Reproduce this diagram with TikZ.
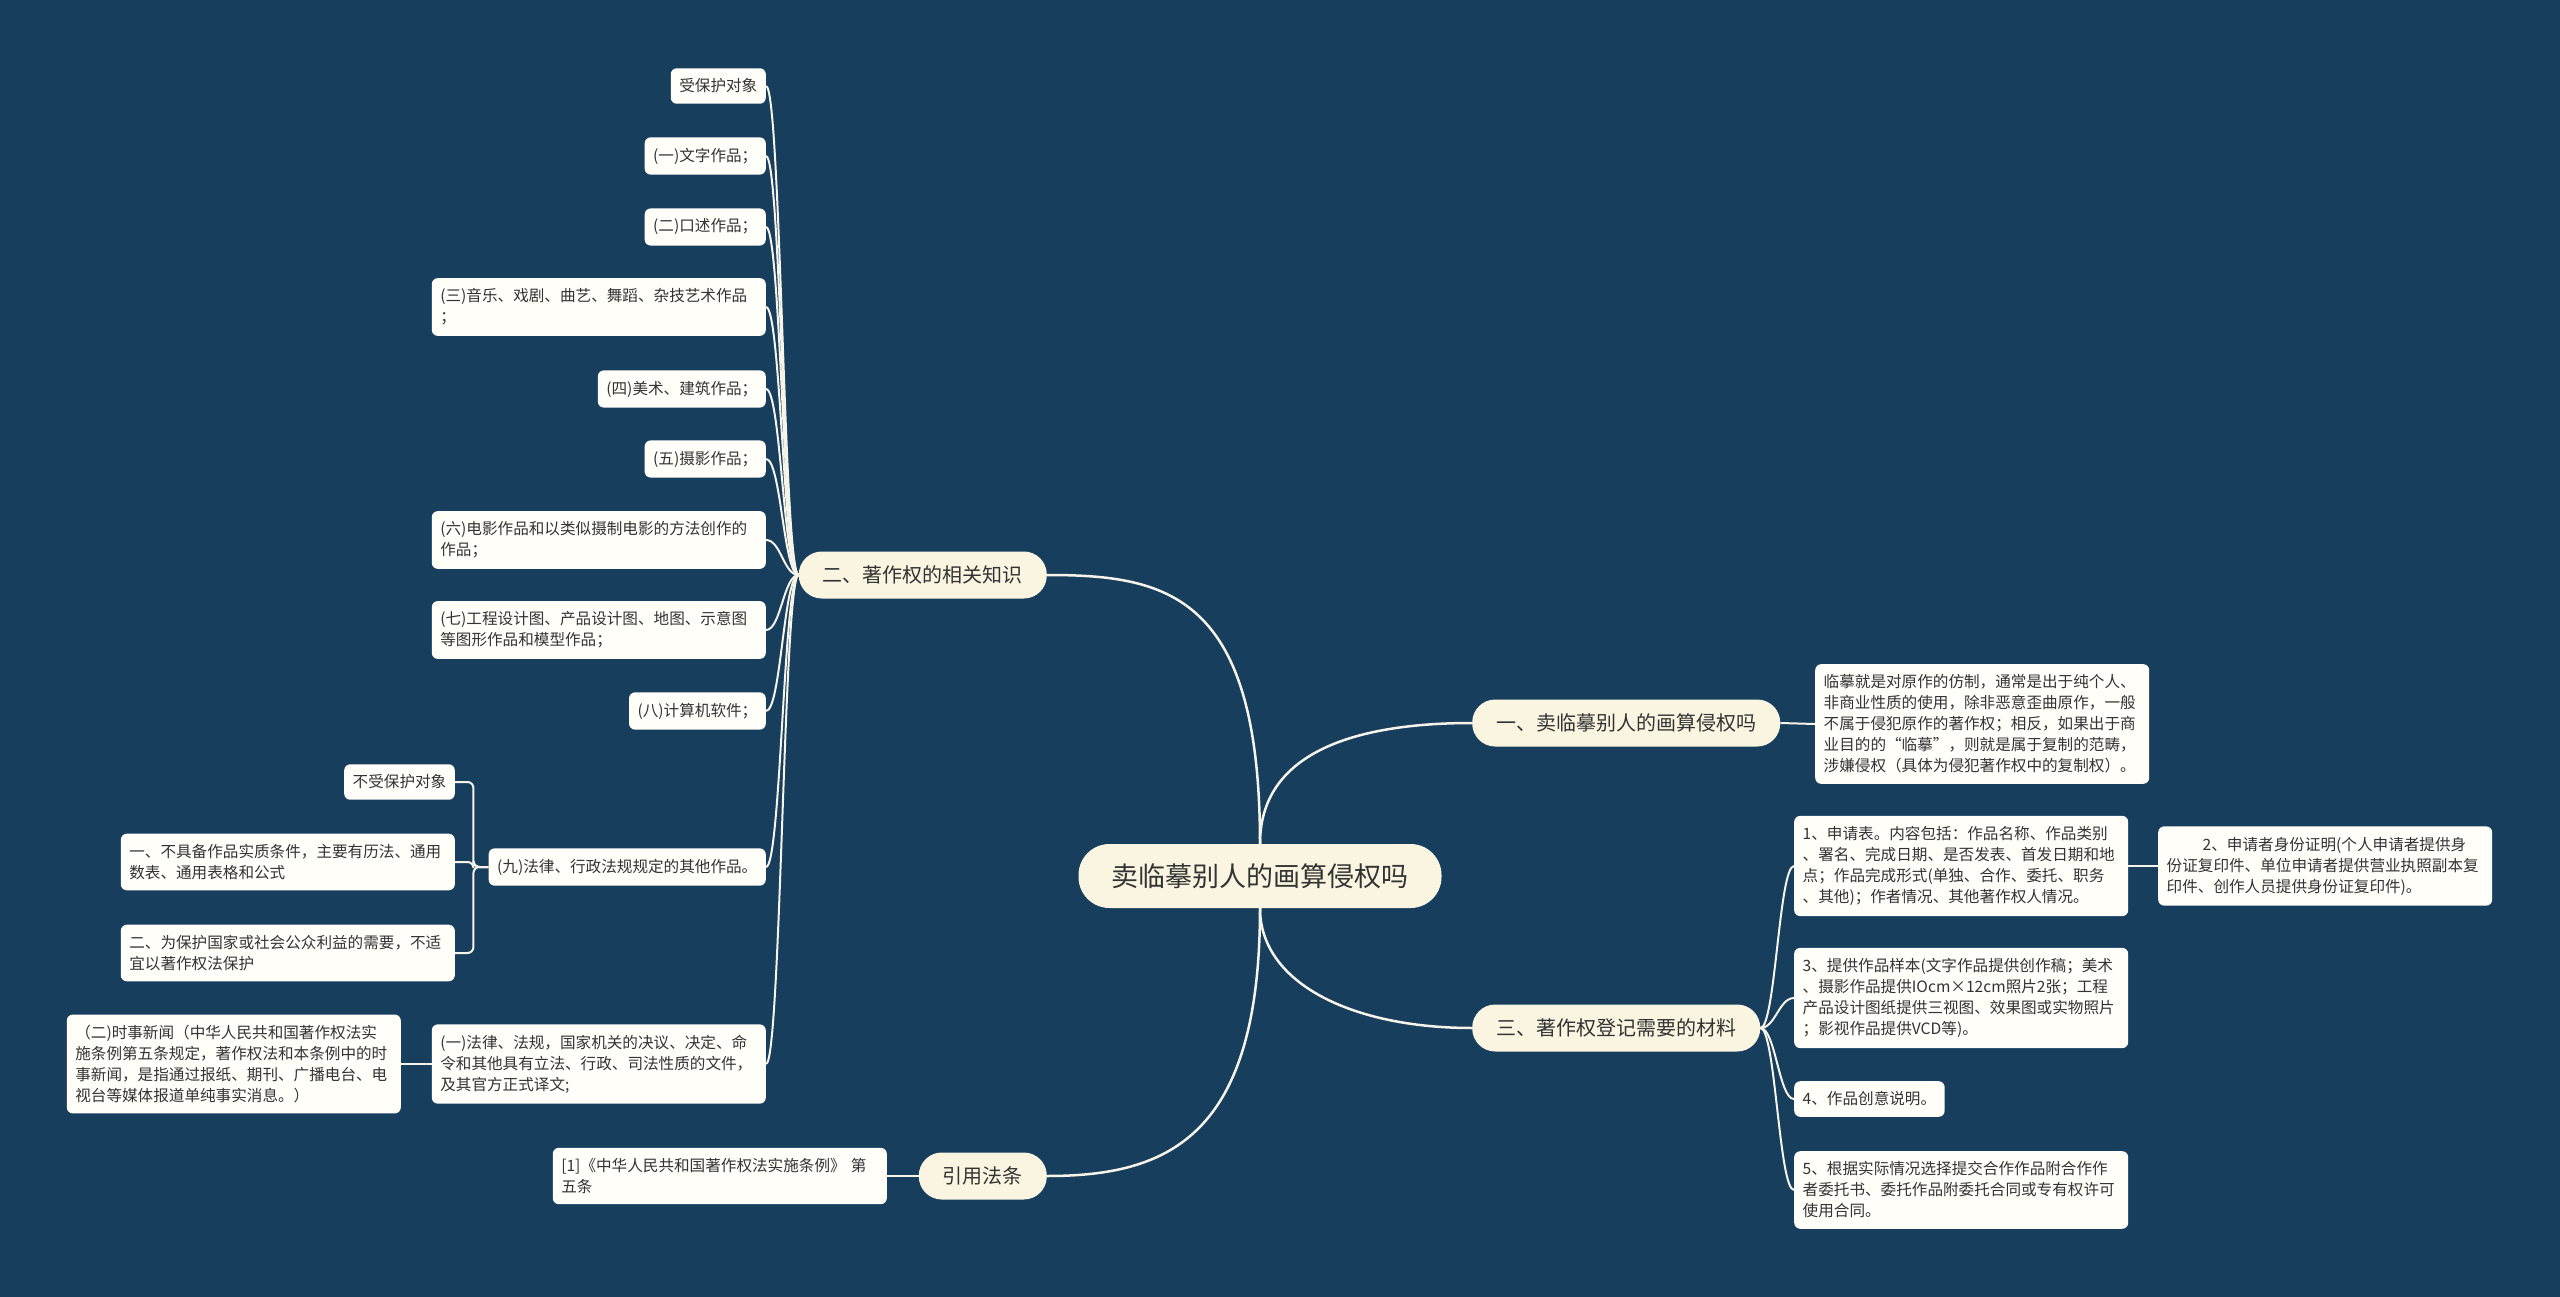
\documentclass[tikz,border=0pt]{standalone}
\usepackage{fontspec}
\setmainfont{Noto Sans CJK SC}
\usepackage{xcolor}
\definecolor{Ink}{HTML}{183E5E}
\definecolor{Cream}{HTML}{FAF5E1}
\definecolor{Paper}{HTML}{FFFEF8}
\definecolor{Wire}{HTML}{F6F3E8}
\definecolor{Txt}{HTML}{333333}
\usepackage{tikz}
\usetikzlibrary{calc}

\begin{document}
\begin{tikzpicture}[x=1pt,y=-1pt,
  font=\fontsize{15.6}{21}\selectfont,
  root/.style={rounded corners=31pt,fill=Cream,text=Txt,minimum height=64pt,
    inner xsep=33pt,font=\fontsize{27}{32}\selectfont},
  topic/.style={rounded corners=23pt,fill=Cream,text=Txt,minimum height=47pt,
    inner xsep=24pt,font=\fontsize{20}{24}\selectfont},
  leaf/.style={rounded corners=6pt,fill=Paper,text=Txt,inner xsep=8.5pt,
    inner ysep=10.5pt,align=left},
  longleaf/.style={leaf,text width=317pt},
  wire/.style={draw=Wire,line width=2pt},
  trunk/.style={draw=Wire,line width=2.5pt},
  lbranch/.style={to path={.. controls ([xshift=-15pt]\tikztostart)
    and ([xshift=15pt]\tikztotarget) .. (\tikztotarget)}},
  rbranch/.style={to path={.. controls ([xshift=15pt]\tikztostart)
    and ([xshift=-15pt]\tikztotarget) .. (\tikztotarget)}}
]
\fill[Ink] (0,0) rectangle (2560,1297);
\useasboundingbox (0,0) rectangle (2560,1297);

% centre and main topics
\node[root] (root) at (1260,876) {卖临摹别人的画算侵权吗};
\node[topic,anchor=east] (know) at (1047,575) {二、著作权的相关知识};
\node[topic,anchor=west] (copy) at (1472,723) {一、卖临摹别人的画算侵权吗};
\node[topic,anchor=west] (mat) at (1472,1028) {三、著作权登记需要的材料};
\node[topic,anchor=east] (law) at (1047,1176) {引用法条};

% protected works
\node[leaf,anchor=east] (prot) at (766,86) {受保护对象};
\node[leaf,anchor=east] (w1) at (766,156) {(一)文字作品；};
\node[leaf,anchor=east] (w2) at (766,227) {(二)口述作品；};
\node[longleaf,anchor=east] (w3) at (766,307) {(三)音乐、戏剧、曲艺、舞蹈、杂技艺术作品\\；};
\node[leaf,anchor=east] (w4) at (766,389) {(四)美术、建筑作品；};
\node[leaf,anchor=east] (w5) at (766,459) {(五)摄影作品；};
\node[longleaf,anchor=east] (w6) at (766,540) {(六)电影作品和以类似摄制电影的方法创作的\\作品；};
\node[longleaf,anchor=east] (w7) at (766,630) {(七)工程设计图、产品设计图、地图、示意图\\等图形作品和模型作品；};
\node[leaf,anchor=east] (w8) at (766,711) {(八)计算机软件；};
\node[leaf,anchor=east] (w9) at (766,867) {(九)法律、行政法规规定的其他作品。};
\node[longleaf,anchor=east] (w10) at (766,1064) {(一)法律、法规，国家机关的决议、决定、命\\令和其他具有立法、行政、司法性质的文件，\\及其官方正式译文;};

% unprotected works
\node[leaf,anchor=east] (unprot) at (455,782) {不受保护对象};
\node[longleaf,anchor=east] (u1) at (455,862) {一、不具备作品实质条件，主要有历法、通用\\数表、通用表格和公式};
\node[longleaf,anchor=east] (u2) at (455,953) {二、为保护国家或社会公众利益的需要，不适\\宜以著作权法保护};
\node[longleaf,anchor=east] (news) at (401,1064) {（二)时事新闻（中华人民共和国著作权法实\\施条例第五条规定，著作权法和本条例中的时\\事新闻，是指通过报纸、期刊、广播电台、电\\视台等媒体报道单纯事实消息。）};
\node[longleaf,anchor=east] (ref) at (887,1176) {[1]《中华人民共和国著作权法实施条例》 第\\五条};

% right side
\node[longleaf,anchor=west] (ans) at (1815,724) {临摹就是对原作的仿制，通常是出于纯个人、\\非商业性质的使用，除非恶意歪曲原作，一般\\不属于侵犯原作的著作权；相反，如果出于商\\业目的的“临摹”，则就是属于复制的范畴，\\涉嫌侵权（具体为侵犯著作权中的复制权）。};
\node[longleaf,anchor=west] (m1) at (1794,866) {1、申请表。内容包括：作品名称、作品类别\\、署名、完成日期、是否发表、首发日期和地\\点；作品完成形式(单独、合作、委托、职务\\、其他)；作者情况、其他著作权人情况。};
\node[longleaf,anchor=west] (m2) at (2158,866) {\hspace*{36pt}2、申请者身份证明(个人申请者提供身\\份证复印件、单位申请者提供营业执照副本复\\印件、创作人员提供身份证复印件)。};
\node[longleaf,anchor=west] (m3) at (1794,998) {3、提供作品样本(文字作品提供创作稿；美术\\、摄影作品提供IOcm×12cm照片2张；工程\\产品设计图纸提供三视图、效果图或实物照片\\；影视作品提供VCD等)。};
\node[leaf,anchor=west] (m4) at (1794,1099) {4、作品创意说明。};
\node[longleaf,anchor=west] (m5) at (1794,1190) {5、根据实际情况选择提交合作作品附合作作\\者委托书、委托作品附委托合同或专有权许可\\使用合同。};

% main curves
\draw[trunk] (root.north) .. controls +(0,-250) and +(120,0) .. (know.east);
\draw[trunk] (root.north) .. controls +(0,-90) and +(-120,0) .. (copy.west);
\draw[trunk] (root.south) .. controls +(0,75) and +(-120,0) .. (mat.west);
\draw[trunk] (root.south) .. controls +(0,230) and +(120,0) .. (law.east);

% branches
\draw[wire] (know.west) to[lbranch] (prot.east);
\draw[wire] (know.west) to[lbranch] (w1.east);
\draw[wire] (know.west) to[lbranch] (w2.east);
\draw[wire] (know.west) to[lbranch] (w3.east);
\draw[wire] (know.west) to[lbranch] (w4.east);
\draw[wire] (know.west) to[lbranch] (w5.east);
\draw[wire] (know.west) to[lbranch] (w6.east);
\draw[wire] (know.west) to[lbranch] (w7.east);
\draw[wire] (know.west) to[lbranch] (w8.east);
\draw[wire] (know.west) to[lbranch] (w9.east);
\draw[wire] (know.west) to[lbranch] (w10.east);
\draw[wire,rounded corners=6pt] (w9.west) -- ++(-15,0) |- (unprot.east);
\draw[wire,rounded corners=6pt] (w9.west) -- ++(-15,0) |- (u1.east);
\draw[wire,rounded corners=6pt] (w9.west) -- ++(-15,0) |- (u2.east);
\draw[wire] (w10.west) -- (news.east);
\draw[wire] (law.west) -- (ref.east);
\draw[wire] (copy.east) -- (ans.west);
\draw[wire] (mat.east) to[rbranch] (m1.west);
\draw[wire] (mat.east) to[rbranch] (m3.west);
\draw[wire] (mat.east) to[rbranch] (m4.west);
\draw[wire] (mat.east) to[rbranch] (m5.west);
\draw[wire] (m1.east) -- (m2.west);
\end{tikzpicture}
\end{document}
